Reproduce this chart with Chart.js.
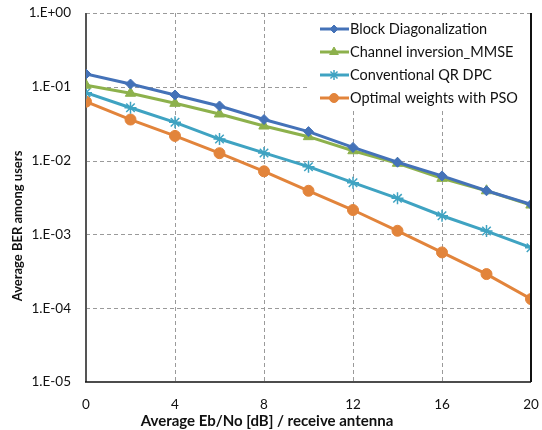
<!DOCTYPE html>
<html>
<head>
<meta charset="utf-8">
<script src="https://cdn.jsdelivr.net/npm/chart.js@4"></script>
<style>
  html, body { margin: 0; padding: 0; background: #fff; }
  #wrap { width: 542px; height: 430px; position: relative; }
</style>
</head>
<body>
<div id="wrap"><canvas id="berChart" width="542" height="430"></canvas></div>
<script>
// Eb/No points (dB)
const snr = [0, 2, 4, 6, 8, 10, 12, 14, 16, 18, 20];

// average BER
const blockDiag = [0.149, 0.109, 0.0775, 0.055, 0.036, 0.0247, 0.0151, 0.0095, 0.0062, 0.0039, 0.00255];
const chanInvMmse = [0.105, 0.0817, 0.0597, 0.0428, 0.0294, 0.0211, 0.0136, 0.0092, 0.00575, 0.0039, 0.0025];
const qrDpc = [0.083, 0.052, 0.033, 0.0196, 0.0127, 0.00827, 0.00502, 0.00308, 0.00179, 0.00111, 0.00066];
const psoWeights = [0.0628, 0.036, 0.0216, 0.0126, 0.00716, 0.0039, 0.00214, 0.00112, 0.00057, 0.00029, 0.000133];

const seriesNames = ['Block Diagonalization', 'Channel inversion_MMSE', 'Conventional QR DPC', 'Optimal weights with PSO'];

const yTicks = [1e-5, 1e-4, 1e-3, 1e-2, 1e-1, 1];
const yTickLabels = ['1.E-05', '1.E-04', '1.E-03', '1.E-02', '1.E-01', '1.E+00'];
const xTicks = [0, 4, 8, 12, 16, 20];

const xTitle = 'Average Eb/No [dB] / receive antenna';
const yTitle = 'Average BER among users';

const FONT = 'Lato, "Open Sans", sans-serif';
const GRID = '#9a9a9a';

function pts(vals) {
    return vals.map((v, i) => ({ x: snr[i], y: v }));
}

function mkSet(label, vals, color, style, radius) {
    return {
        label: label,
        data: pts(vals),
        borderColor: color,
        backgroundColor: color,
        borderWidth: 3,
        pointStyle: style,
        pointRadius: radius,
        pointBorderWidth: style === 'star' ? 1.5 : 1,
        pointBorderColor: color,
        pointBackgroundColor: color,
        tension: 0
    };
}

// dashed grid, frame, legend and axis titles
const extras = {
    id: 'extras',
    beforeDatasetsDraw(chart) {
        const ctx = chart.ctx;
        const area = chart.chartArea;
        const xs = chart.scales.x, ys = chart.scales.y;
        ctx.save();
        ctx.strokeStyle = GRID;
        ctx.lineWidth = 1;
        ctx.setLineDash([4, 3]);
        xTicks.slice(1, -1).forEach(v => {
            const x = Math.round(xs.getPixelForValue(v)) + 0.5;
            ctx.beginPath();
            ctx.moveTo(x, area.top);
            ctx.lineTo(x, area.bottom);
            ctx.stroke();
        });
        yTicks.slice(1).forEach(v => {
            const y = Math.round(ys.getPixelForValue(v)) + 0.5;
            ctx.beginPath();
            ctx.moveTo(area.left, y);
            ctx.lineTo(area.right, y);
            ctx.stroke();
        });
        ctx.setLineDash([]);
        // left axis, bottom axis
        ctx.strokeStyle = '#555';
        ctx.lineWidth = 2;
        ctx.beginPath();
        ctx.moveTo(area.left, area.top);
        ctx.lineTo(area.left, area.bottom);
        ctx.stroke();
        ctx.strokeStyle = '#111';
        ctx.lineWidth = 1.5;
        ctx.beginPath();
        ctx.moveTo(area.left - 1, area.bottom);
        ctx.lineTo(area.right, area.bottom);
        ctx.stroke();
        ctx.restore();
    },
    afterDraw(chart) {
        const ctx = chart.ctx;
        const area = chart.chartArea;
        ctx.save();

        // right border
        ctx.strokeStyle = '#111';
        ctx.lineWidth = 2;
        ctx.beginPath();
        ctx.moveTo(area.right, area.top);
        ctx.lineTo(area.right, area.bottom);
        ctx.stroke();

        // legend box
        ctx.fillStyle = '#fff';
        ctx.fillRect(307, area.top + 2, area.right - 308, 96);

        chart.data.datasets.forEach((ds, i) => {
            const y = 29 + i * 23;
            ctx.strokeStyle = ds.borderColor;
            ctx.fillStyle = ds.backgroundColor;
            ctx.lineWidth = 3;
            ctx.beginPath();
            ctx.moveTo(320, y);
            ctx.lineTo(349, y);
            ctx.stroke();
            ctx.lineWidth = ds.pointBorderWidth;
            Chart.helpers.drawPoint(ctx, {
                pointStyle: ds.pointStyle,
                radius: ds.pointRadius - 1,
                rotation: 0,
                borderWidth: ds.pointBorderWidth
            }, 334, y);
            ctx.fillStyle = '#111';
            ctx.font = '14.5px ' + FONT;
            ctx.textAlign = 'left';
            ctx.textBaseline = 'middle';
            ctx.fillText(ds.label, 350, y);
        });

        // axis titles
        ctx.fillStyle = '#111';
        ctx.textAlign = 'center';
        ctx.textBaseline = 'middle';
        ctx.font = 'bold 15px ' + FONT;
        ctx.fillText(xTitle, 267, 421);
        ctx.font = 'bold 13px ' + FONT;
        ctx.translate(18, 226);
        ctx.rotate(-Math.PI / 2);
        ctx.fillText(yTitle, 0, 0);
        ctx.restore();
    }
};

const ctx = document.getElementById('berChart').getContext('2d');
const berChart = new Chart(ctx, {
    type: 'line',
    data: {
        datasets: [
            mkSet(seriesNames[0], blockDiag, '#4472B8', 'rectRot', 5),
            mkSet(seriesNames[1], chanInvMmse, '#8DB14C', 'triangle', 6),
            mkSet(seriesNames[2], qrDpc, '#3FA3C2', 'star', 6),
            mkSet(seriesNames[3], psoWeights, '#E2843B', 'circle', 5.5)
        ]
    },
    options: {
        responsive: false,
        animation: false,
        layout: { padding: { left: 0, right: 11, top: 13, bottom: 0 } },
        plugins: {
            legend: { display: false },
            tooltip: { enabled: false }
        },
        scales: {
            x: {
                type: 'linear',
                min: 0,
                max: 20,
                afterBuildTicks: s => { s.ticks = xTicks.map(v => ({ value: v })); },
                afterFit: s => {
                    s.height = 48;
                    s.paddingLeft = 0;
                    s.paddingRight = 0;
                },
                ticks: {
                    color: '#111',
                    font: { family: FONT, size: 13.5 },
                    padding: 15,
                    maxRotation: 0
                },
                grid: { display: false, drawTicks: false },
                border: { display: false }
            },
            y: {
                type: 'logarithmic',
                min: 1e-5,
                max: 1,
                afterBuildTicks: s => { s.ticks = yTicks.map(v => ({ value: v })); },
                afterFit: s => {
                    s.width = 86;
                    s.paddingTop = 0;
                    s.paddingBottom = 0;
                },
                ticks: {
                    color: '#111',
                    font: { family: FONT, size: 13.5 },
                    padding: 15,
                    callback: v => {
                        const k = yTicks.findIndex(t => Math.abs(Math.log10(t) - Math.log10(v)) < 1e-6);
                        return k >= 0 ? yTickLabels[k] : '';
                    }
                },
                grid: { display: false, drawTicks: false },
                border: { display: false }
            }
        }
    },
    plugins: [extras]
});
</script>
</body>
</html>
